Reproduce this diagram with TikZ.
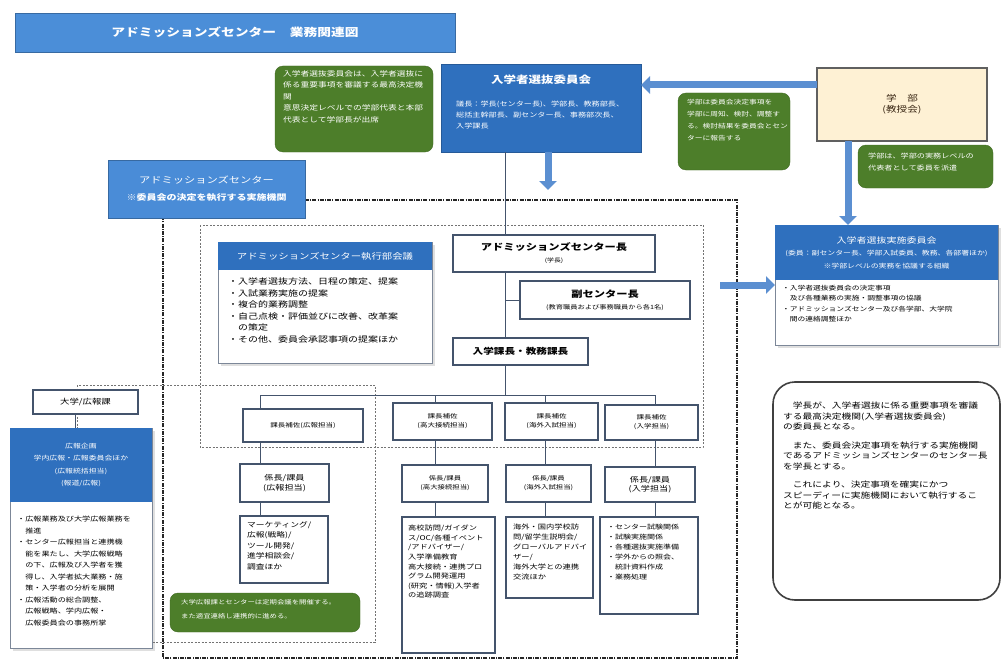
\documentclass[tikz,border=0pt]{standalone}
\usepackage{fontspec}
\setmainfont{Noto Sans CJK JP}[FakeStretch=1.25]
\usetikzlibrary{arrows.meta,shadows}
\definecolor{titleblue}{HTML}{4B8ED8}
\definecolor{darkblue}{HTML}{2F70BE}
\definecolor{midblue}{HTML}{4A8CD7}
\definecolor{arrowblue}{HTML}{5B8FD1}
\definecolor{leaf}{HTML}{4D7E2A}
\definecolor{beige}{HTML}{FEF1D4}
\definecolor{boxline}{HTML}{44546C}
\newcommand\fs[2]{\fontsize{#1}{#2}\selectfont}
\begin{document}
\begin{tikzpicture}[x=1pt,y=-1pt,
  frame/.style={anchor=north west, inner sep=0pt, outer sep=0pt},
  unitbox/.style={frame, draw=boxline, line width=1.1pt, fill=white, align=center},
  blueblk/.style={frame, fill=darkblue, text=white, align=center},
  greenbox/.style={frame, fill=leaf, draw=leaf!85!black, rounded corners=8pt},
  txt/.style={anchor=north west, inner sep=0pt, align=left},
  wtxt/.style={txt, text=white},
  fat/.style={line width=7pt, draw=arrowblue, -{Triangle[width=17pt,length=9pt]}},
  link/.style={draw=boxline, line width=1pt},
  bigdash/.style={draw=black!85, line width=1.1pt, dash pattern=on 4pt off 1.2pt on 1pt off 1.2pt},
  dotline/.style={draw=black!55, line width=0.8pt, dash pattern=on 2pt off 1.5pt},
]
\useasboundingbox[fill=white] (0,0) rectangle (1002,661);

% background frames
\draw[dotline] (200,225) rectangle (703,447);
\draw[dotline] (77,385) rectangle (375,642);
\draw[bigdash] (305,200) -- (737,200) -- (737,658) -- (163,658) -- (163,218);

% title
\node[frame, fill=titleblue, draw=titleblue!75!black, minimum width=440pt, minimum height=39pt, text=white, font=\fs{11}{13}\bfseries] (title) at (15,13) {アドミッションズセンター　業務関連図};

% top green note
\node[greenbox, minimum width=158pt, minimum height=86pt] (gsel) at (275,66) {};
\node[wtxt, font=\fs{7}{11.5}] (gselT) at (283,70) {入学者選抜委員会は、入学者選抜に\\係る重要事項を審議する最高決定機\\関\\意思決定レベルでの学部代表と本部\\代表として学部長が出席};

% selection committee
\node[blueblk, draw=darkblue!80!black, minimum width=200pt, minimum height=88pt] (sel) at (441,64) {};
\node[text=white, font=\fs{10}{12}\bfseries] (selT) at (541,80) {入学者選抜委員会};
\node[wtxt, font=\fs{6.5}{11}] (selB) at (456,101) {議長：学長(センター長)、学部長、教務部長、\\総括主幹部長、副センター長、事務部次長、\\入学課長};

% faculty
\node[frame, fill=beige, draw=gray!75!black, line width=1.2pt, minimum width=170pt, minimum height=73pt, align=center, text=black!70!brown, font=\fs{8.5}{11}] (fac) at (817,68) {学　部\\(教授会)};

% green notes right
\node[greenbox, minimum width=112pt, minimum height=77pt] (gfac) at (678,93) {};
\node[wtxt, font=\fs{6.2}{12}] (gfacT) at (687,99) {学部は委員会決定事項を\\学部に周知、検討、調整す\\る。検討結果を委員会とセン\\ターに報告する};
\node[greenbox, minimum width=135pt, minimum height=43pt] (gdel) at (858,145) {};
\node[wtxt, font=\fs{6.5}{12}] (gdelT) at (868,153) {学部は、学部の実務レベルの\\代表者として委員を派遣};

% admissions center label
\node[frame, fill=midblue, draw=midblue!75!black, minimum width=197pt, minimum height=58pt, align=center, text=white, font=\fs{9}{12}] (asc) at (108,160) {アドミッションズセンター\\[5pt]{\fs{8}{10}\bfseries ※委員会の決定を執行する実施機関}};

% implementation committee
\node[unitbox, draw=boxline!70, line width=1pt, minimum width=223pt, minimum height=120pt, drop shadow={opacity=0.25}] (rc) at (775,225) {};
\node[blueblk, minimum width=223pt, minimum height=55pt, font=\fs{6.3}{12.5}] (rch) at (775,225) {{\fs{8}{12}入学者選抜実施委員会}\\(委員：副センター長、学部入試委員、教務、各部署ほか)\\※学部レベルの実務を協議する組織};
\node[txt, font=\fs{6.2}{10.3}] (rcB) at (782,285) {・入学者選抜委員会の決定事項\\　及び各種業務の実施・調整事項の協議\\・アドミッションズセンター及び各学部、大学院\\　間の連絡調整ほか};

% fat arrows
\draw[fat] ([yshift=19.5pt]fac.west) -- ([yshift=23pt]sel.east);
\draw[fat] ([xshift=7pt]sel.south) -- ++(0,38);
\draw[fat] ([xshift=-54pt]fac.south) -- ([xshift=-54pt]fac.south |- rch.north);
\draw[fat] ([xshift=-55pt]rc.west) -- (rc.west);

% executive meeting
\node[unitbox, draw=boxline!70, line width=1pt, minimum width=214pt, minimum height=121pt, drop shadow={opacity=0.25}] (ex) at (218,242) {};
\node[blueblk, minimum width=214pt, minimum height=28pt, font=\fs{8.3}{10}] (exh) at (218,242) {アドミッションズセンター執行部会議};
\node[txt, font=\fs{8}{11.5}] (exB) at (228,278) {・入学者選抜方法、日程の策定、提案\\・入試業務実施の提案\\・複合的業務調整\\・自己点検・評価並びに改善、改革案\\　の策定\\・その他、委員会承認事項の提案ほか};

% center hierarchy
\node[unitbox, minimum width=202pt, minimum height=37pt] (head) at (453,235) {{\fs{9}{11}\bfseries アドミッションズセンター長}\\{\fs{5.5}{7}(学長)}};
\node[unitbox, minimum width=170pt, minimum height=38pt] (vice) at (520,281) {{\fs{9}{12}\bfseries 副センター長}\\{\fs{5.8}{8}(教育職員および事務職員から各1名)}};
\node[unitbox, minimum width=135pt, minimum height=27pt, font=\fs{8.5}{10}\bfseries] (mgr) at (453,338) {入学課長・教務課長};

\coordinate (sp) at (505,0);
\coordinate (b1) at (260,395);
\coordinate (b2) at (435,395);
\coordinate (b3) at (545,395);
\coordinate (b4) at (655,395);
\draw[link] ([xshift=-36pt]sel.south) -- ([xshift=-36pt]sel.south |- head.north);
\draw[link] (sp |- head.south) -- (sp |- mgr.north);
\draw[link] (sp |- vice.west) -- (vice.west);
\draw[link] (sp |- mgr.south) -- (sp |- b1);
\draw[link] (b1) -- (b4);

% level 1
\node[unitbox, minimum width=120pt, minimum height=33pt, font=\fs{6}{9}] (u1) at (243,409) {課長補佐(広報担当)};
\node[unitbox, minimum width=99pt, minimum height=37pt, font=\fs{6}{9}] (u2) at (393,403) {課長補佐\\(高大接続担当)};
\node[unitbox, minimum width=93pt, minimum height=37pt, font=\fs{6}{9}] (u3) at (505,403) {課長補佐\\(海外入試担当)};
\node[unitbox, minimum width=93pt, minimum height=35pt, font=\fs{6}{9}] (u4) at (605,405) {課長補佐\\(入学担当)};

% level 2
\node[unitbox, minimum width=89pt, minimum height=38pt, font=\fs{7.3}{9.5}] (v1) at (240,464) {係長/課員\\(広報担当)};
\node[unitbox, minimum width=86pt, minimum height=37pt, font=\fs{5.9}{9}] (v2) at (402,465) {係長/課員\\(高大接続担当)};
\node[unitbox, minimum width=85pt, minimum height=37pt, font=\fs{5.9}{9}] (v3) at (506,465) {係長/課員\\(海外入試担当)};
\node[unitbox, minimum width=90pt, minimum height=35pt, font=\fs{7.3}{9.5}] (v4) at (605,467) {係長/課員\\(入学担当)};

% level 3
\node[unitbox, minimum width=88pt, minimum height=67pt] (w1) at (240,516) {};
\node[txt, font=\fs{7}{10.5}] (w1T) at (247,521) {マーケティング/\\広報(戦略)/\\ツール開発/\\進学相談会/\\調査ほか};
\node[unitbox, minimum width=93pt, minimum height=136pt] (w2) at (402,517) {};
\node[txt, font=\fs{6.6}{9.6}] (w2T) at (408,525) {高校訪問/ガイダン\\ス/OC/各種イベント\\/アドバイザー/\\入学準備教育\\高大接続・連携プロ\\グラム開発運用\\(研究・情報)入学者\\の追跡調査};
\node[unitbox, minimum width=87pt, minimum height=81pt] (w3) at (506,517) {};
\node[txt, font=\fs{6.6}{10}] (w3T) at (513,524) {海外・国内学校訪\\問/留学生説明会/\\グローバルアドバイ\\ザー/\\海外大学との連携\\交流ほか};
\node[unitbox, minimum width=98pt, minimum height=97pt] (w4) at (600,517) {};
\node[txt, font=\fs{6.4}{10}] (w4T) at (607,524) {・センター試験関係\\・試験実施関係\\・各種選抜実施準備\\・学外からの照会、\\　統計資料作成\\・業務処理};

\foreach \i in {1,...,4} {
  \draw[link] (b\i) -- (b\i |- u\i.north);
  \draw[link] (b\i |- u\i.south) -- (b\i |- v\i.north);
  \draw[link] (b\i |- v\i.south) -- (b\i |- w\i.north);
}

% university PR
\node[unitbox, minimum width=105pt, minimum height=24pt, font=\fs{7.5}{9}] (pr) at (33,390) {大学/広報課};
\node[unitbox, draw=boxline!70, line width=1pt, minimum width=142pt, minimum height=220pt, drop shadow={opacity=0.25}] (lb) at (10,428) {};
\node[blueblk, minimum width=142pt, minimum height=74pt, font=\fs{6.3}{12.3}] (lbh) at (10,428) {広報企画\\学内広報・広報委員会ほか\\(広報統括担当)\\(報道/広報)};
\node[txt, font=\fs{6.5}{11.5}] (lbT) at (17,516) {・広報業務及び大学広報業務を\\　推進\\・センター広報担当と連携機\\　能を果たし、大学広報戦略\\　の下、広報及び入学者を獲\\　得し、入学者拡大業務・施\\　策・入学者の分析を展開\\・広報活動の総合調整、\\　広報戦略、学内広報・\\　広報委員会の事務所掌};
\draw[link] ([xshift=-10.5pt]pr.south) -- ([xshift=-10.5pt]pr.south |- lbh.north);

% green bottom note
\node[greenbox, minimum width=190pt, minimum height=39pt] (gpr) at (170,593) {};
\node[wtxt, font=\fs{5.9}{14}] (gprT) at (181,599) {大学広報課とセンターは定期会議を開催する。\\また適宜連絡し連携的に進める。};

% right note
\node[frame, draw=black!75, line width=1.6pt, rounded corners=22pt, minimum width=227pt, minimum height=218pt, fill=white] (note) at (773,382) {};
\node[txt, font=\fs{7.8}{10.5}] (noteT) at (783,402) {　学長が、入学者選抜に係る重要事項を審議\\する最高決定機関(入学者選抜委員会)\\の委員長となる。\\[8pt]　また、委員会決定事項を執行する実施機関\\であるアドミッションズセンターのセンター長\\を学長とする。\\[8pt]　これにより、決定事項を確実にかつ\\スピーディーに実施機関において執行するこ\\とが可能となる。};
\end{tikzpicture}
\end{document}
